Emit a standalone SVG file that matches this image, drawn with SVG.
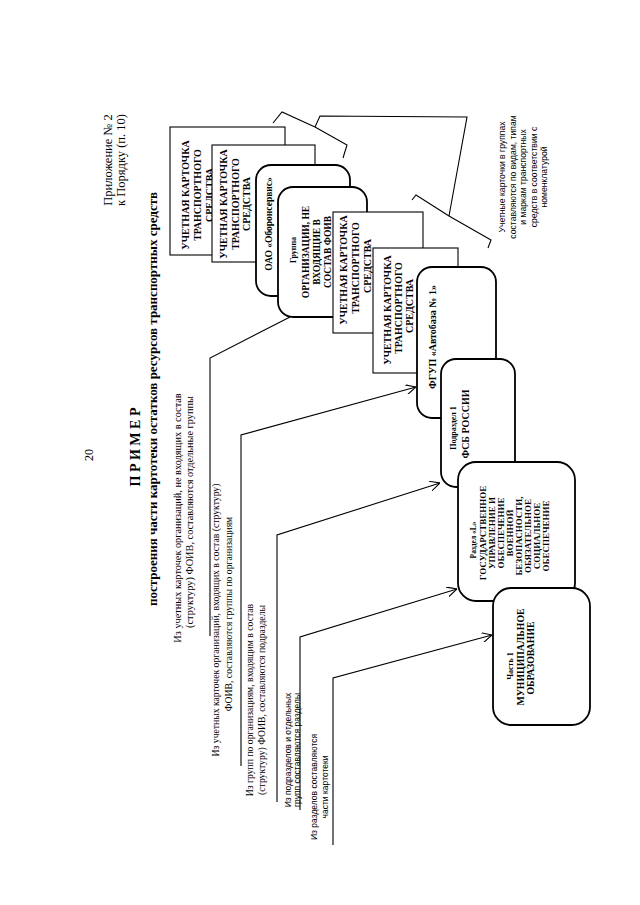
<svg xmlns="http://www.w3.org/2000/svg" width="640" height="905" viewBox="0 0 640 905">
<style>
.bg{fill:#fff}
.sq{fill:#fff;stroke:#000;stroke-width:1.1}
.rd{fill:#fff;stroke:#000;stroke-width:1.8}
.ln{fill:none;stroke:#000;stroke-width:1.1}
text{fill:#000;font-family:"Liberation Serif","Times New Roman",serif}
.b{font-weight:bold;text-anchor:middle}
.s{font-family:"Liberation Sans",Arial,sans-serif}
.m{text-anchor:middle}
</style>
<defs>
<marker id="ar" viewBox="0 0 10 10" refX="10" refY="5" markerWidth="10" markerHeight="10" markerUnits="userSpaceOnUse" orient="auto">
<path d="M0,0 L10,5 L0,10" fill="none" stroke="#000" stroke-width="1.1"/>
</marker>
</defs>
<rect class="bg" x="0" y="0" width="640" height="905"/>

<g id="header">
<text transform="rotate(-90)" font-size="12.5" class="m"><tspan x="-160" y="112">Приложение № 2</tspan><tspan x="-160" y="124.5">к Порядку (п. 10)</tspan></text>
<text transform="rotate(-90)" font-size="12" class="m"><tspan x="-455" y="93">20</tspan></text>
<text transform="rotate(-90)" font-size="14" class="b"><tspan x="-447" y="140">П Р И М Е Р</tspan></text>
<text transform="rotate(-90)" font-size="13" class="b"><tspan x="-399" y="157">построения части картотеки остатков ресурсов транспортных средств</tspan></text>
</g>

<g id="box1">
<rect class="sq" x="170" y="127" width="115" height="128"/>
<text transform="rotate(-90)" font-size="10" class="b"><tspan x="-195" y="188.5">УЧЕТНАЯ КАРТОЧКА</tspan><tspan x="-195" y="200.5">ТРАНСПОРТНОГО</tspan><tspan x="-195" y="212.5">СРЕДСТВА</tspan></text>
</g>
<g id="box2">
<rect class="sq" x="212" y="145" width="103" height="117"/>
<text transform="rotate(-90)" font-size="10" class="b"><tspan x="-204" y="226.5">УЧЕТНАЯ КАРТОЧКА</tspan><tspan x="-204" y="238.5">ТРАНСПОРТНОГО</tspan><tspan x="-204" y="250">СРЕДСТВА</tspan></text>
</g>
<g id="box3">
<rect class="rd" x="256" y="165" width="94" height="131" rx="15"/>
<text transform="rotate(-90)" font-size="9.5" class="b"><tspan x="-224" y="271.5">ОАО «Оборонсервис»</tspan></text>
</g>
<g id="box4">
<rect class="rd" x="278" y="187" width="89" height="130" rx="15"/>
<text transform="rotate(-90)" class="b"><tspan x="-250" y="296" font-size="8">Группа</tspan><tspan x="-252" y="308.5" font-size="9.5">ОРГАНИЗАЦИИ, НЕ</tspan><tspan x="-252" y="320" font-size="9.5">ВХОДЯЩИЕ В</tspan><tspan x="-252" y="331" font-size="9.5">СОСТАВ ФОИВ</tspan></text>
</g>
<g id="box5">
<rect class="sq" x="333" y="212" width="90" height="121"/>
<text transform="rotate(-90)" font-size="10" class="b"><tspan x="-270" y="347">УЧЕТНАЯ КАРТОЧКА</tspan><tspan x="-268" y="359">ТРАНСПОРТНОГО</tspan><tspan x="-266" y="370.5">СРЕДСТВА</tspan></text>
</g>
<g id="box6">
<rect class="sq" x="373" y="248" width="85" height="125"/>
<text transform="rotate(-90)" font-size="10" class="b"><tspan x="-310" y="390.5">УЧЕТНАЯ КАРТОЧКА</tspan><tspan x="-308" y="401.5">ТРАНСПОРТНОГО</tspan><tspan x="-306" y="412.5">СРЕДСТВА</tspan></text>
</g>
<g id="box7">
<rect class="rd" x="417" y="267" width="79" height="151" rx="15"/>
<text transform="rotate(-90)" font-size="10" class="b"><tspan x="-337" y="435.5">ФГУП «Автобаза № 1»</tspan></text>
</g>
<g id="box8">
<rect class="rd" x="441" y="359" width="74" height="128" rx="15"/>
<text transform="rotate(-90)" class="b"><tspan x="-428" y="456" font-size="8">Подраздел 1</tspan><tspan x="-424" y="468.5" font-size="10">ФСБ РОССИИ</tspan></text>
</g>
<g id="box9">
<rect class="rd" x="458" y="462" width="117" height="139" rx="18"/>
<text transform="rotate(-90)" class="b" font-size="9"><tspan x="-540" y="475.5" font-size="7.5">Раздел «L»</tspan><tspan x="-533" y="486">ГОСУДАРСТВЕННОЕ</tspan><tspan x="-533" y="495">УПРАВЛЕНИЕ И</tspan><tspan x="-533" y="504">ОБЕСПЕЧЕНИЕ</tspan><tspan x="-533" y="513">ВОЕННОЙ</tspan><tspan x="-536" y="522">БЕЗОПАСНОСТИ,</tspan><tspan x="-536" y="531">ОБЯЗАТЕЛЬНОЕ</tspan><tspan x="-536" y="540">СОЦИАЛЬНОЕ</tspan><tspan x="-536" y="549">ОБЕСПЕЧЕНИЕ</tspan></text>
</g>
<g id="box10">
<rect class="rd" x="493" y="588" width="97" height="137" rx="18"/>
<text transform="rotate(-90)" class="b"><tspan x="-666" y="513" font-size="8">Часть 1</tspan><tspan x="-657" y="523.5" font-size="9.8">МУНИЦИПАЛЬНОЕ</tspan><tspan x="-658" y="533.5" font-size="9.8">ОБРАЗОВАНИЕ</tspan></text>
</g>

<g id="notes">
<text transform="rotate(-90)" font-size="10.3" class="m"><tspan x="-518" y="181">Из учетных карточек организаций, не входящих в состав</tspan><tspan x="-512" y="193">(структуру) ФОИВ, составляются отдельные группы</tspan></text>
<text transform="rotate(-90)" font-size="9.7" class="m"><tspan x="-620" y="219">Из учетных карточек организаций, входящих в состав (структуру)</tspan><tspan x="-614" y="231.5">ФОИВ, составляются группы по организациям</tspan></text>
<text transform="rotate(-90)" font-size="9.7" class="m"><tspan x="-700" y="253">Из групп по организациям, входящим в состав</tspan><tspan x="-700" y="265">(структуру) ФОИВ, составляются подразделы</tspan></text>
<text transform="rotate(-90)" font-size="8.5" class="s m"><tspan x="-750" y="291">Из подразделов и отдельных</tspan><tspan x="-750" y="300">групп составляются разделы</tspan></text>
<text transform="rotate(-90)" font-size="8.5" class="s m"><tspan x="-787" y="317">Из разделов составляются</tspan><tspan x="-787" y="328">части картотеки</tspan></text>
<text transform="rotate(-90)" font-size="8.6" class="s m"><tspan x="-177" y="505">Учетные карточки в группах</tspan><tspan x="-177" y="515.5">составляются по видам, типам</tspan><tspan x="-177" y="526">и маркам транспортных</tspan><tspan x="-177" y="536.5">средств в соответствии с</tspan><tspan x="-177" y="547">номенклатурой</tspan></text>
</g>

<g id="connectors">
<polyline class="ln" points="210,636 210,358 290,317"/>
<polyline class="ln" points="241,766 241,435 416,387" marker-end="url(#ar)"/>
<polyline class="ln" points="277,802 277,535 440,483" marker-end="url(#ar)"/>
<polyline class="ln" points="300,810 300,637 457,589" marker-end="url(#ar)"/>
<polyline class="ln" points="333,845 333,678 492,635" marker-end="url(#ar)"/>
<polyline class="ln" points="273,123 282,112 315,127 347,145 343,158"/>
<polyline class="ln" points="315,127 320,116 467,117 449,216"/>
<polyline class="ln" points="412,200 416,195 449,216 491,240 488,248"/>
</g>
</svg>
